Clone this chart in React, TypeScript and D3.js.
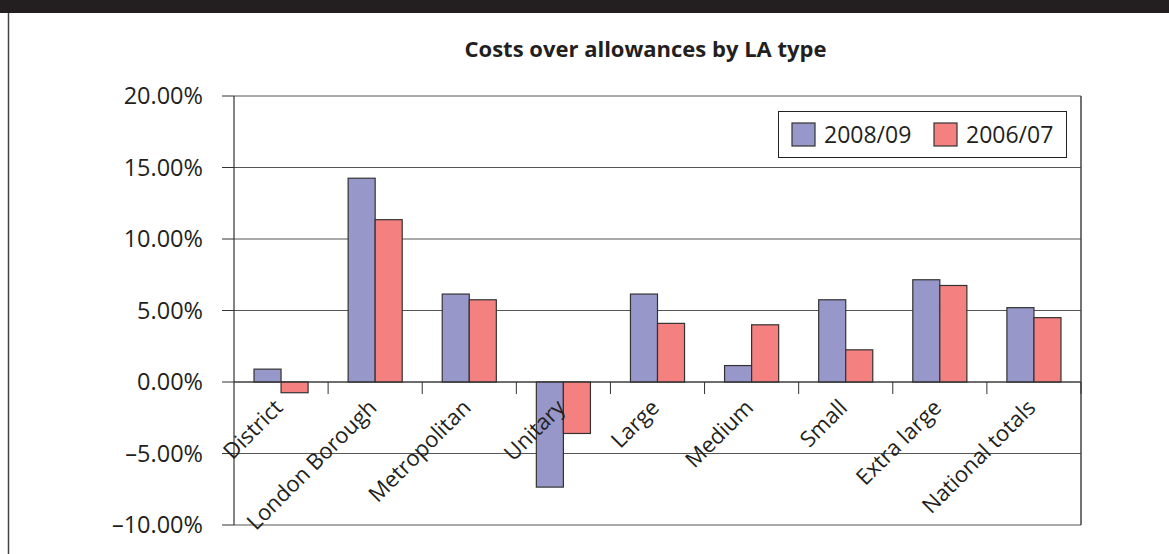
import React from "react";
import * as d3 from "d3";

const categories = ["District", "London Borough", "Metropolitan", "Unitary", "Large", "Medium", "Small", "Extra large", "National totals"];
const series2008 = [0.9, 14.25, 6.15, -7.35, 6.15, 1.15, 5.75, 7.15, 5.2];
const series2006 = [-0.75, 11.35, 5.75, -3.6, 4.1, 4.0, 2.25, 6.75, 4.5];
const seriesNames = ["2008/09", "2006/07"];
const seriesColors = ["#9797C9", "#F48080"];
const yTicks = [-10, -5, 0, 5, 10, 15, 20];

const W = 1169;
const H = 554;
const plot = { left: 234, right: 1081, top: 96, bottom: 525 };
const FONT = "'Open Sans', 'DejaVu Sans', sans-serif";

export default function App() {
  const x = d3.scaleBand<string>().domain(categories).range([plot.left, plot.right]).paddingInner(0).paddingOuter(0);
  const inner = d3.scaleBand<string>().domain(seriesNames).range([0, x.bandwidth()]).paddingInner(0).paddingOuter(0.74);
  const y = d3.scaleLinear().domain([-10, 20]).range([plot.bottom, plot.top]);
  const fmt = (v: number) => (v < 0 ? "\u2013" + Math.abs(v).toFixed(2) : v.toFixed(2)) + "%";
  const data = [series2008, series2006];
  const y0 = y(0);

  return (
    <svg width={W} height={H} style={{ position: "absolute", left: 0, top: 0, background: "#fff" }} fontFamily={FONT}>
      <rect x={0} y={0} width={W} height={13} fill="#231F20" />
      <line x1={8.5} x2={8.5} y1={13} y2={H} stroke="#444" strokeWidth={1.5} />
      <text x={645.5} y={57} textAnchor="middle" fontSize={22} fontWeight={700} fill="#231F20">Costs over allowances by LA type</text>

      {yTicks.map((t) => (
        <g key={t}>
          <line x1={plot.left} x2={plot.right} y1={y(t)} y2={y(t)} stroke="#555" strokeWidth={1} />
          <line x1={plot.left - 12} x2={plot.left} y1={y(t)} y2={y(t)} stroke="#333" strokeWidth={1} />
          <text x={203} y={y(t)} dy="0.36em" textAnchor="end" fontSize={23.5} fill="#231F20" fontWeight={400}>{fmt(t)}</text>
        </g>
      ))}

      <line x1={plot.right} x2={plot.right} y1={plot.top} y2={plot.bottom} stroke="#444" strokeWidth={1.5} />

      {categories.map((c, i) => (
        <g key={c}>
          {data.map((s, k) => {
            const v = s[i];
            const bx = (x(c) as number) + (inner(seriesNames[k]) as number);
            return (
              <rect key={k} x={bx} y={Math.min(y(v), y0)} width={inner.bandwidth()} height={Math.abs(y(v) - y0)} fill={seriesColors[k]} stroke="#333" strokeWidth={1.2} />
            );
          })}
        </g>
      ))}

      <line x1={plot.left} x2={plot.right} y1={y0} y2={y0} stroke="#333" strokeWidth={1} />
      {categories.map((c, i) => (
        <line key={"t" + i} x1={(x(c) as number) + x.bandwidth()} x2={(x(c) as number) + x.bandwidth()} y1={y0} y2={y0 + 12} stroke="#333" strokeWidth={1} />
      ))}
      <line x1={plot.left} x2={plot.left} y1={plot.top} y2={plot.bottom} stroke="#333" strokeWidth={1.2} />

      {categories.map((c) => {
        const cx = (x(c) as number) + x.bandwidth() / 2 + 3;
        return (
          <text key={"l" + c} transform={`translate(${cx},${y0 + 27}) rotate(-45)`} textAnchor="end" fontSize={22} fill="#231F20" fontWeight={400}>{c}</text>
        );
      })}

      <rect x={778.5} y={111.5} width={288} height={46} fill="#fff" stroke="#222" strokeWidth={1} />
      {seriesNames.map((n, k) => {
        const lx = 792 + k * 142;
        return (
          <g key={n}>
            <rect x={lx} y={123} width={23} height={23} fill={seriesColors[k]} stroke="#333" strokeWidth={1.2} />
            <text x={lx + 32} y={134.5} dy="0.36em" fontSize={23} fill="#231F20" fontWeight={400}>{n}</text>
          </g>
        );
      })}
    </svg>
  );
}
